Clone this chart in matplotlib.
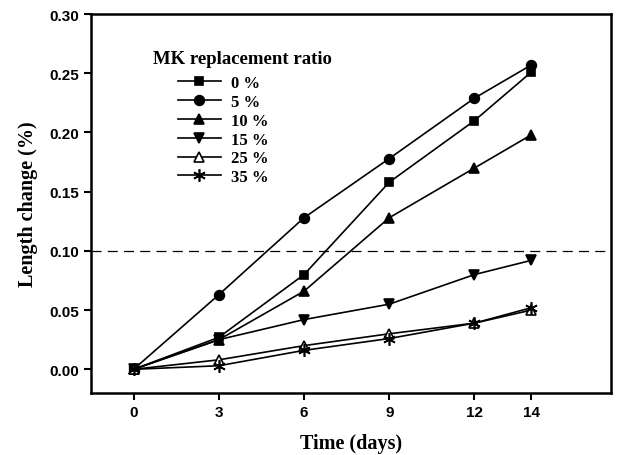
import matplotlib
matplotlib.use("Agg")
from matplotlib import pyplot as plt

days = [0, 3, 6, 9, 12, 14]
labels = ['0 %', '5 %', '10 %', '15 %', '25 %', '35 %']
mk0 = [0.0, 0.027, 0.080, 0.158, 0.210, 0.251]
mk5 = [0.0, 0.063, 0.128, 0.178, 0.229, 0.257]
mk10 = [0.0, 0.025, 0.066, 0.128, 0.170, 0.198]
mk15 = [0.0, 0.025, 0.042, 0.055, 0.080, 0.092]
mk25 = [0.0, 0.008, 0.020, 0.030, 0.039, 0.050]
mk35 = [0.0, 0.003, 0.016, 0.026, 0.039, 0.052]
limit = 0.10

serif = 'Liberation Serif'
sans = 'Liberation Sans'

fig = plt.figure(figsize=(6.17, 4.56), dpi=100)
ax = fig.add_axes([0.1475, 0.136, 0.8425, 0.831])

series = [mk0, mk5, mk10, mk15, mk25, mk35]
markers = ['s', 'o', '^', 'v', '^', (6, 2, 0)]
faces = ['black', 'black', 'black', 'black', 'white', 'black']
sizes = [6, 7, 7, 7, 7, 9]
for vals, lab, m, fc, ms in zip(series, labels, markers, faces, sizes):
    ax.plot(days, vals, color='black', lw=1.2, marker=m, ms=ms,
            markerfacecolor=fc, markeredgecolor='black', markeredgewidth=1.2,
            label=lab)

ax.axhline(limit, color='black', lw=0.9, ls=(0, (8, 5)))

ax.set_xlim(-1.5, 16.8)
ax.set_ylim(-0.02, 0.30)
ax.set_xticks(days)
ax.set_yticks([0.0, 0.05, 0.10, 0.15, 0.20, 0.25, 0.30])
ax.set_yticklabels(['%.2f' % v for v in [0.0, 0.05, 0.10, 0.15, 0.20, 0.25, 0.30]])
for sp in ax.spines.values():
    sp.set_linewidth(1.8)
ax.tick_params(direction='out', length=5, width=1.5, top=False, right=False,
               labelsize=11)
for t in ax.get_xticklabels() + ax.get_yticklabels():
    t.set_fontfamily(sans)
    t.set_fontweight('bold')

ax.set_xlabel('Time (days)', fontfamily=serif, fontweight='bold', fontsize=14.5, labelpad=10)
ax.set_ylabel('Length change (%)', fontfamily=serif, fontweight='bold', fontsize=14.5, labelpad=8)

# legend title drawn separately so the entries can sit indented under it
ax.text(0.119, 0.884, 'MK replacement ratio', transform=ax.transAxes,
        fontfamily=serif, fontweight='bold', fontsize=13.5, va='center', ha='left')
ax.legend(loc='upper left', bbox_to_anchor=(0.167, 0.839), frameon=False,
          prop={'family': serif, 'weight': 'bold', 'size': 12},
          handlelength=2.6, labelspacing=0.17, handletextpad=0.6, borderpad=0,
          borderaxespad=0)

fig.savefig('out.png', dpi=100)
